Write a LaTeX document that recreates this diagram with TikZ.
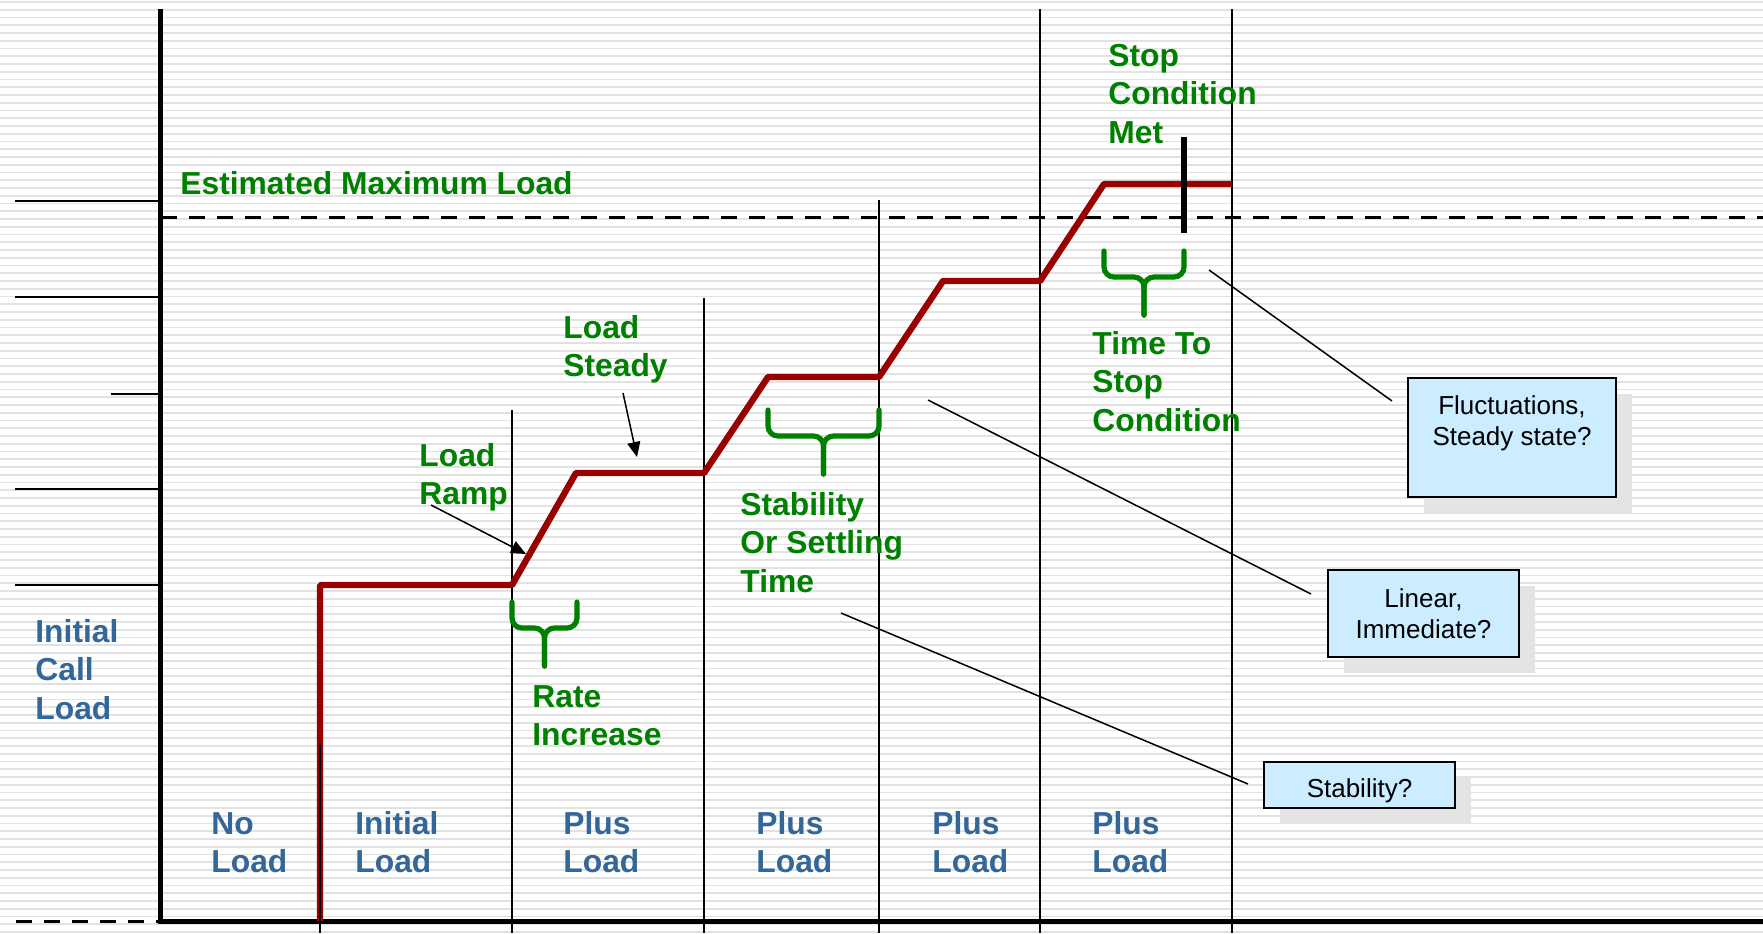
\documentclass[tikz,border=0pt]{standalone}
\usepackage{fontspec}
\setmainfont{Liberation Sans}
\usetikzlibrary{arrows.meta,shadows}
\definecolor{loadred}{RGB}{153,0,0}
\definecolor{labelgreen}{RGB}{0,128,0}
\definecolor{phaseblue}{RGB}{51,102,153}
\definecolor{notefill}{RGB}{204,236,255}
\definecolor{stripegray}{RGB}{226,226,226}
\definecolor{shadowgray}{RGB}{228,228,228}
\begin{document}
\begin{tikzpicture}[x=0.5pt,y=-0.5pt,
  stripe/.style={stripegray,line width=0.9pt},
  axisline/.style={line width=2.5pt},
  gridline/.style={line width=0.75pt},
  dashline/.style={line width=1.5pt,dash pattern=on 8pt off 6pt},
  loadpath/.style={loadred,line width=3.2pt,line join=bevel},
  bracepath/.style={labelgreen,line width=2.6pt,rounded corners=5pt,line cap=round},
  greenlabel/.style={labelgreen,font={\fontsize{15.9}{19.4}\selectfont\bfseries},align=left,inner sep=0pt,anchor=base west},
  bluelabel/.style={phaseblue,font={\fontsize{15.9}{19.4}\selectfont\bfseries},align=left,inner sep=0pt,anchor=base west},
  note/.style={draw,line width=0.8pt,fill=notefill,font={\fontsize{13}{15.5}\selectfont},align=center,inner sep=0pt,
    drop shadow={shadow xshift=8pt,shadow yshift=-8pt,fill=shadowgray,opacity=1}},
  pointer/.style={line width=0.75pt},
  tip/.style={-{Triangle[length=7.5pt,width=6.5pt]},line width=0.75pt}
]
\useasboundingbox (0,0) rectangle (1763,933);
\fill[white] (0,0) rectangle (1763,933);

% ruled background
\foreach \k in {0,...,120}
  \draw[stripe] (0,{\k*7.75+2}) -- (1763,{\k*7.75+2});

% level ticks on the left
\draw[gridline] (15,201) -- (160,201);
\draw[gridline] (15,297) -- (160,297);
\draw[gridline] (111,394) -- (160,394);
\draw[gridline] (15,489) -- (160,489);
\draw[gridline] (15,585) -- (160,585);

% phase boundaries
\draw[gridline] (512,410) -- (512,933);
\draw[gridline] (704,298) -- (704,933);
\draw[gridline] (879,200) -- (879,933);
\draw[gridline] (1040,9) -- (1040,933);
\draw[gridline] (1232,9) -- (1232,933);

% estimated maximum load
\draw[dashline] (161,217) -- (1763,217);
\draw[dashline] (16,921) -- (161,921);

% axes
\draw[axisline] (160,9) -- (160,921) -- (1763,921);

% load profile
\draw[loadpath] (320,921) -- (320,585) -- (512,585) -- (576,473) -- (704,473)
  -- (768,377) -- (879,377) -- (943,281) -- (1040,281) -- (1104,184) -- (1232,184);
\draw[gridline] (320,744) -- (320,933);

% stop condition marker
\draw[line width=3pt] (1184,137) -- (1184,233);

% braces
\foreach \xl/\xr/\yt in {512/577/602, 768/879/410, 1104/1184/251}{
  \pgfmathsetmacro\xc{(\xl+\xr)/2}
  \pgfmathsetmacro\ym{\yt+26}
  \pgfmathsetmacro\yb{\yt+64}
  \draw[bracepath] (\xl,\yt) -- (\xl,\ym) -- (\xc,\ym) -- (\xc,\yb);
  \draw[bracepath] (\xr,\yt) -- (\xr,\ym) -- (\xc,\ym) -- (\xc,\yb);
}

% labels (anchored at the baseline of the last line)
\node[greenlabel] (estmax) at (180,194) {Estimated Maximum Load};
\node[greenlabel] (stopmet) at (1108,143.6) {Stop\\Condition\\Met};
\node[greenlabel] (steady) at (563,376.8) {Load\\Steady};
\node[greenlabel] (ramp) at (419,504.8) {Load\\Ramp};
\node[greenlabel] (settle) at (740,592.6) {Stability\\Or Settling\\Time};
\node[greenlabel] (timestop) at (1092,431.6) {Time To\\Stop\\Condition};
\node[greenlabel] (rate) at (532,745.8) {Rate\\Increase};

\node[bluelabel] (initcall) at (35,719.6) {Initial\\Call\\Load};
\node[bluelabel] (p0) at (211,872.8) {No\\Load};
\node[bluelabel] (p1) at (355,872.8) {Initial\\Load};
\node[bluelabel] (p2) at (563,872.8) {Plus\\Load};
\node[bluelabel] (p3) at (756,872.8) {Plus\\Load};
\node[bluelabel] (p4) at (932,872.8) {Plus\\Load};
\node[bluelabel] (p5) at (1092,872.8) {Plus\\Load};

% arrows to the profile
\coordinate (rampfrom) at (431,505);
\coordinate (rampto) at (526,554);
\coordinate (steadyfrom) at (623,393);
\coordinate (steadyto) at (637,457);
\draw[tip] (rampfrom) -- (rampto);
\draw[tip] (steadyfrom) -- (steadyto);

% notes
\node[note,minimum width=104pt,minimum height=59.5pt] (nfluct) at (1512,437.5)
  {Fluctuations,\\Steady state?\\[1.5pt]};
\node[note,minimum width=95.5pt,minimum height=43.5pt] (nlinear) at (1423.5,613.5)
  {Linear,\\Immediate?};
\node[note,minimum width=95.5pt,minimum height=23pt] (nstab) at (1359.5,785)
  {\raisebox{-3pt}[9.5pt][2.7pt]{Stability?}};

\coordinate (c1a) at (1209,270);
\coordinate (c1b) at (1392,401);
\coordinate (c2a) at (928,400);
\coordinate (c2b) at (1311,594);
\coordinate (c3a) at (841,613);
\coordinate (c3b) at (1248,784);
\draw[pointer] (c1a) -- (c1b);
\draw[pointer] (c2a) -- (c2b);
\draw[pointer] (c3a) -- (c3b);
\end{tikzpicture}
\end{document}
